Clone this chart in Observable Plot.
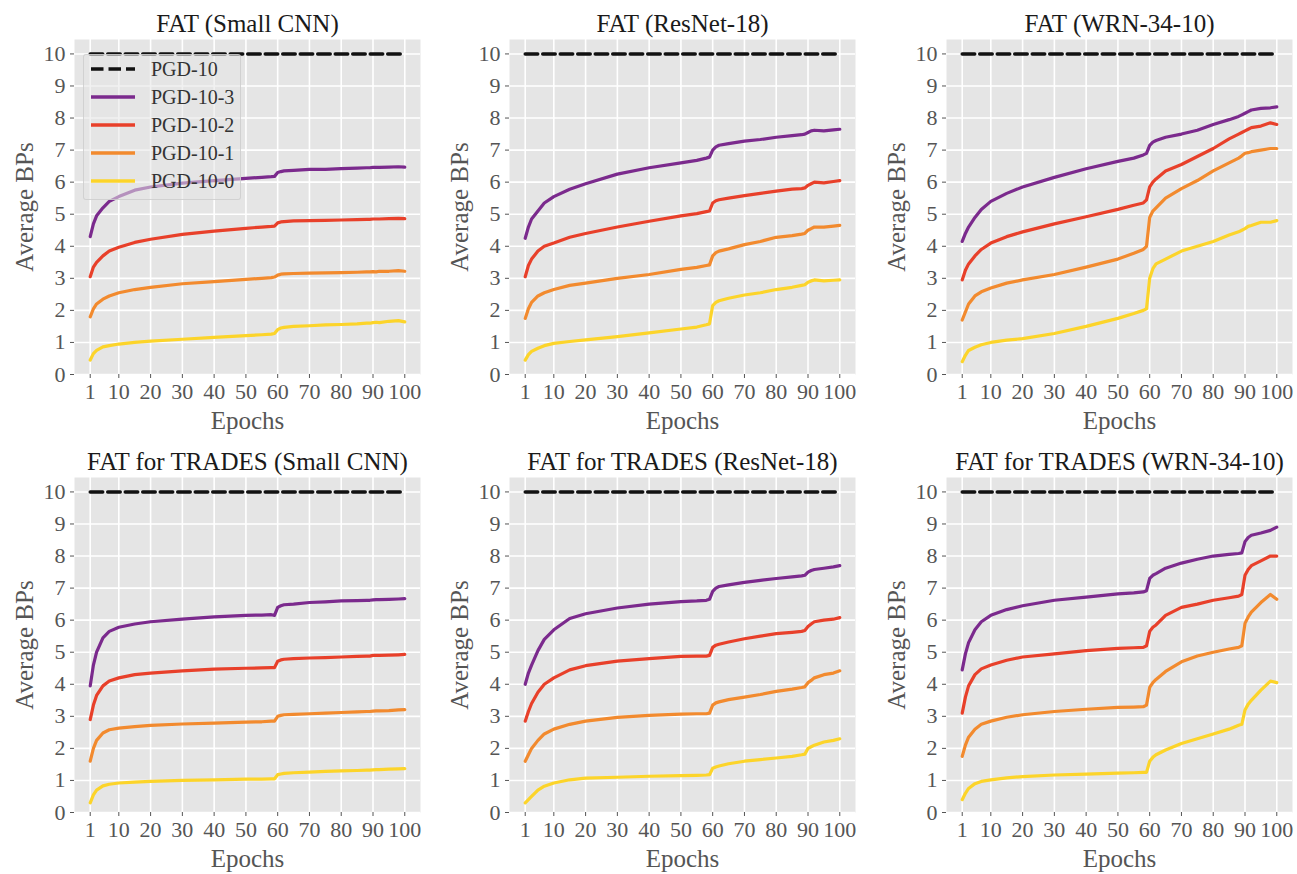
<!DOCTYPE html>
<html><head><meta charset="utf-8">
<script src="https://cdn.jsdelivr.net/npm/d3@7"></script>
<script src="https://cdn.jsdelivr.net/npm/@observablehq/plot@0.6"></script>
<style>
body{margin:0;background:#fff;}
#chart{position:relative;width:1297px;height:874px;font-family:"Liberation Serif","DejaVu Serif","Noto Serif","Times New Roman",Tinos,FreeSerif,Georgia,serif;overflow:hidden;}
.panel{position:absolute;width:430px;height:437px;}
.panel svg{max-width:none !important;}
.legend{position:absolute;left:83px;top:54px;width:158px;height:146px;background:rgba(229,229,229,0.55);border:1px solid rgba(204,204,204,0.8);border-radius:3px;box-sizing:border-box;}
.legend .row{height:28px;display:flex;align-items:center;font-size:20px;color:#333;}
.legend svg{margin-left:6px;margin-right:15px;}
</style></head><body><div id="chart"></div>
<script>
// ---- data ----
const epochs = [1,2,3,5,7,10,15,20,30,40,50,55,58,59,60,61,62,65,70,75,80,85,88,89,90,91,92,95,98,100];
const xTicks = [1,10,20,30,40,50,60,70,80,90,100];
const yTicks = [0,1,2,3,4,5,6,7,8,9,10];
const seriesNames = ["PGD-10","PGD-10-3","PGD-10-2","PGD-10-1","PGD-10-0"];
const seriesColors = ["#111111","#7b2a8d","#e8402a","#f28a2e","#fcd42a"];
const pgd10Epochs = [1,100];
const pgd10Values = [10,10];
const panelTitles = ["FAT (Small CNN)","FAT (ResNet-18)","FAT (WRN-34-10)","FAT for TRADES (Small CNN)","FAT for TRADES (ResNet-18)","FAT for TRADES (WRN-34-10)"];

// FAT (Small CNN)
const fatCnn3 = [4.30,4.70,4.95,5.20,5.40,5.55,5.75,5.85,5.97,6.05,6.12,6.15,6.17,6.18,6.30,6.33,6.35,6.37,6.40,6.40,6.42,6.44,6.45,6.45,6.46,6.46,6.46,6.47,6.48,6.47];
const fatCnn2 = [3.05,3.35,3.50,3.70,3.85,3.97,4.12,4.22,4.37,4.47,4.56,4.60,4.62,4.63,4.73,4.76,4.77,4.79,4.80,4.81,4.82,4.83,4.84,4.84,4.85,4.85,4.85,4.86,4.87,4.86];
const fatCnn1 = [1.80,2.05,2.20,2.35,2.45,2.55,2.65,2.72,2.83,2.90,2.97,3.00,3.02,3.04,3.10,3.13,3.14,3.15,3.16,3.17,3.18,3.19,3.20,3.20,3.21,3.20,3.22,3.22,3.24,3.22];
const fatCnn0 = [0.45,0.65,0.75,0.86,0.90,0.95,1.00,1.04,1.10,1.16,1.21,1.24,1.26,1.28,1.40,1.45,1.47,1.50,1.52,1.55,1.56,1.58,1.60,1.60,1.62,1.63,1.62,1.66,1.68,1.64];
// FAT (ResNet-18)
const fatRes3 = [4.25,4.60,4.85,5.10,5.35,5.55,5.78,5.95,6.25,6.45,6.60,6.68,6.75,6.78,7.00,7.10,7.15,7.20,7.28,7.33,7.40,7.45,7.48,7.50,7.55,7.60,7.62,7.60,7.63,7.65];
const fatRes2 = [3.05,3.40,3.60,3.85,4.00,4.10,4.28,4.40,4.60,4.78,4.95,5.02,5.08,5.10,5.35,5.42,5.45,5.50,5.58,5.65,5.72,5.78,5.80,5.82,5.90,5.95,6.00,5.98,6.02,6.05];
const fatRes1 = [1.75,2.05,2.25,2.45,2.55,2.65,2.78,2.85,3.00,3.12,3.28,3.34,3.40,3.42,3.70,3.80,3.85,3.92,4.05,4.15,4.28,4.33,4.38,4.40,4.50,4.55,4.60,4.60,4.63,4.65];
const fatRes0 = [0.45,0.62,0.72,0.82,0.90,0.97,1.03,1.08,1.18,1.30,1.42,1.48,1.55,1.58,2.15,2.25,2.30,2.38,2.48,2.55,2.65,2.72,2.78,2.80,2.88,2.92,2.95,2.92,2.94,2.95];
// FAT (WRN-34-10)
const fatWrn3 = [4.15,4.40,4.60,4.90,5.15,5.40,5.65,5.85,6.15,6.42,6.65,6.75,6.85,6.90,7.15,7.25,7.30,7.40,7.50,7.62,7.80,7.95,8.05,8.10,8.15,8.20,8.25,8.30,8.32,8.35];
const fatWrn2 = [2.95,3.25,3.45,3.70,3.90,4.10,4.30,4.45,4.70,4.92,5.15,5.28,5.35,5.45,5.85,6.00,6.10,6.35,6.55,6.80,7.05,7.35,7.50,7.55,7.60,7.65,7.70,7.75,7.85,7.80];
const fatWrn1 = [1.70,1.95,2.20,2.45,2.58,2.70,2.85,2.95,3.12,3.35,3.60,3.78,3.90,4.00,4.90,5.10,5.20,5.50,5.80,6.05,6.35,6.60,6.75,6.82,6.90,6.92,6.95,7.00,7.05,7.05];
const fatWrn0 = [0.40,0.60,0.75,0.85,0.93,1.00,1.07,1.12,1.28,1.50,1.75,1.90,2.00,2.05,3.00,3.30,3.45,3.60,3.85,4.00,4.15,4.35,4.45,4.50,4.55,4.62,4.65,4.75,4.75,4.80];
// FAT for TRADES (Small CNN)
const trCnn3 = [3.95,4.60,5.00,5.45,5.65,5.78,5.88,5.95,6.03,6.10,6.15,6.16,6.17,6.15,6.40,6.45,6.48,6.50,6.55,6.57,6.60,6.61,6.62,6.62,6.63,6.64,6.64,6.65,6.66,6.67];
const trCnn2 = [2.90,3.35,3.65,3.95,4.10,4.20,4.30,4.35,4.42,4.47,4.50,4.51,4.52,4.52,4.72,4.76,4.78,4.80,4.82,4.83,4.85,4.87,4.88,4.88,4.90,4.90,4.90,4.91,4.92,4.93];
const trCnn1 = [1.60,2.00,2.25,2.48,2.58,2.63,2.68,2.72,2.76,2.79,2.82,2.83,2.85,2.85,3.00,3.03,3.05,3.06,3.08,3.10,3.12,3.14,3.15,3.15,3.16,3.17,3.17,3.18,3.20,3.21];
const trCnn0 = [0.30,0.55,0.70,0.83,0.88,0.92,0.95,0.97,1.00,1.02,1.04,1.04,1.05,1.05,1.18,1.20,1.22,1.24,1.26,1.28,1.30,1.31,1.32,1.32,1.33,1.34,1.34,1.35,1.36,1.37];
// FAT for TRADES (ResNet-18)
const trRes3 = [4.00,4.35,4.60,5.05,5.40,5.70,6.05,6.20,6.38,6.50,6.58,6.60,6.62,6.65,6.90,7.00,7.05,7.10,7.18,7.24,7.30,7.35,7.38,7.40,7.50,7.55,7.58,7.62,7.66,7.70];
const trRes2 = [2.85,3.15,3.40,3.75,4.00,4.20,4.45,4.58,4.72,4.80,4.87,4.88,4.88,4.90,5.15,5.22,5.25,5.32,5.42,5.50,5.58,5.62,5.65,5.68,5.80,5.88,5.95,6.00,6.03,6.08];
const trRes1 = [1.60,1.80,2.00,2.25,2.45,2.60,2.75,2.85,2.97,3.03,3.07,3.08,3.08,3.10,3.35,3.42,3.45,3.52,3.60,3.68,3.78,3.85,3.90,3.92,4.05,4.12,4.20,4.30,4.35,4.42];
const trRes0 = [0.30,0.40,0.50,0.70,0.82,0.92,1.02,1.07,1.10,1.13,1.15,1.16,1.17,1.18,1.38,1.42,1.45,1.52,1.60,1.65,1.70,1.75,1.80,1.82,2.00,2.05,2.10,2.20,2.25,2.30];
// FAT for TRADES (WRN-34-10)
const trWrn3 = [4.45,4.95,5.30,5.70,5.95,6.15,6.33,6.45,6.62,6.72,6.82,6.85,6.88,6.92,7.30,7.40,7.45,7.62,7.78,7.90,8.00,8.05,8.08,8.10,8.45,8.58,8.65,8.72,8.80,8.90];
const trWrn2 = [3.10,3.60,3.95,4.30,4.48,4.60,4.75,4.85,4.95,5.05,5.12,5.14,5.15,5.20,5.65,5.78,5.85,6.15,6.40,6.50,6.62,6.70,6.75,6.80,7.40,7.58,7.70,7.85,8.00,8.00];
const trWrn1 = [1.75,2.10,2.35,2.60,2.75,2.85,2.97,3.05,3.15,3.22,3.28,3.29,3.30,3.35,3.90,4.05,4.15,4.40,4.70,4.88,5.00,5.10,5.15,5.20,5.90,6.10,6.25,6.55,6.80,6.65];
const trWrn0 = [0.40,0.60,0.75,0.90,0.97,1.02,1.08,1.12,1.17,1.20,1.23,1.24,1.25,1.25,1.60,1.72,1.80,1.95,2.15,2.30,2.45,2.60,2.72,2.75,3.20,3.38,3.50,3.82,4.10,4.05];

const panelSeries = [
  [fatCnn3,fatCnn2,fatCnn1,fatCnn0],
  [fatRes3,fatRes2,fatRes1,fatRes0],
  [fatWrn3,fatWrn2,fatWrn1,fatWrn0],
  [trCnn3,trCnn2,trCnn1,trCnn0],
  [trRes3,trRes2,trRes1,trRes0],
  [trWrn3,trWrn2,trWrn1,trWrn0]
];

// ---- layout ----
const chart = document.getElementById("chart");
const colLeft = [0, 435, 872];
const rowTop = [0, 438];
const FONT = "Liberation Serif, DejaVu Serif, Noto Serif, Times New Roman, Tinos, FreeSerif, Georgia, serif";

panelTitles.forEach((title, i) => {
  const series = panelSeries[i];
  const rows = [];
  series.forEach((vals, s) => {
    vals.forEach((v, k) => rows.push({epoch: epochs[k], value: v, series: seriesNames[s + 1]}));
  });
  const dash = pgd10Epochs.map((e, k) => ({epoch: e, value: pgd10Values[k], series: seriesNames[0]}));
  const plot = Plot.plot({
    width: 430, height: 437,
    marginLeft: 74, marginRight: 10, marginTop: 39, marginBottom: 63,
    x: {domain: [-3.95, 104.95]},
    y: {domain: [0, 10.45]},
    color: {domain: seriesNames, range: seriesColors},
    style: {fontFamily: FONT, fontSize: "22px", color: "#555", background: "transparent", overflow: "visible", maxWidth: "none"},
    marks: [
      Plot.frame({fill: "#e5e5e5", stroke: null}),
      Plot.gridX({ticks: xTicks, stroke: "#ffffff", strokeOpacity: 1, strokeWidth: 1.6}),
      Plot.gridY({ticks: yTicks, stroke: "#ffffff", strokeOpacity: 1, strokeWidth: 1.6}),
      Plot.axisX({ticks: xTicks, tickSize: 4, tickPadding: 5, label: null, fontSize: 22, tickFormat: d => String(d)}),
      Plot.axisY({ticks: yTicks, tickSize: 4, tickPadding: 5, label: null, fontSize: 22, tickFormat: d => String(d)}),
      Plot.line(dash, {x: "epoch", y: "value", stroke: "series", strokeWidth: 3.5, strokeDasharray: "12.5,5"}),
      Plot.line(rows, {x: "epoch", y: "value", z: "series", stroke: "series", strokeWidth: 3.2, strokeLinejoin: "round", strokeLinecap: "round"}),
      Plot.text([title], {frameAnchor: "top", dy: -8, lineAnchor: "bottom", fontSize: 25, fill: "#1a1a1a", text: d => d}),
      Plot.text(["Epochs"], {frameAnchor: "bottom", dy: 54, lineAnchor: "bottom", fontSize: 25, fill: "#555", text: d => d}),
      Plot.text(["Average BPs"], {frameAnchor: "left", dx: -50, rotate: -90, textAnchor: "middle", lineAnchor: "middle", fontSize: 25, fill: "#555", text: d => d})
    ]
  });
  plot.style.maxWidth = "none";
  const wrap = document.createElement("div");
  wrap.className = "panel";
  wrap.style.left = colLeft[i % 3] + "px";
  wrap.style.top = rowTop[Math.floor(i / 3)] + "px";
  wrap.appendChild(plot);
  chart.appendChild(wrap);
});

// ---- legend (first panel) ----
const legend = document.createElement("div");
legend.className = "legend";
seriesNames.forEach((name, s) => {
  const row = document.createElement("div");
  row.className = "row";
  const svg = d3.create("svg").attr("width", 46).attr("height", 8);
  svg.append("line").attr("x1", 1).attr("x2", 45).attr("y1", 4).attr("y2", 4)
    .attr("stroke", seriesColors[s]).attr("stroke-width", 3.5)
    .attr("stroke-dasharray", s === 0 ? "12.5,5" : null);
  row.appendChild(svg.node());
  const t = document.createElement("span");
  t.textContent = name;
  row.appendChild(t);
  legend.appendChild(row);
});
chart.appendChild(legend);
</script>
</body></html>
